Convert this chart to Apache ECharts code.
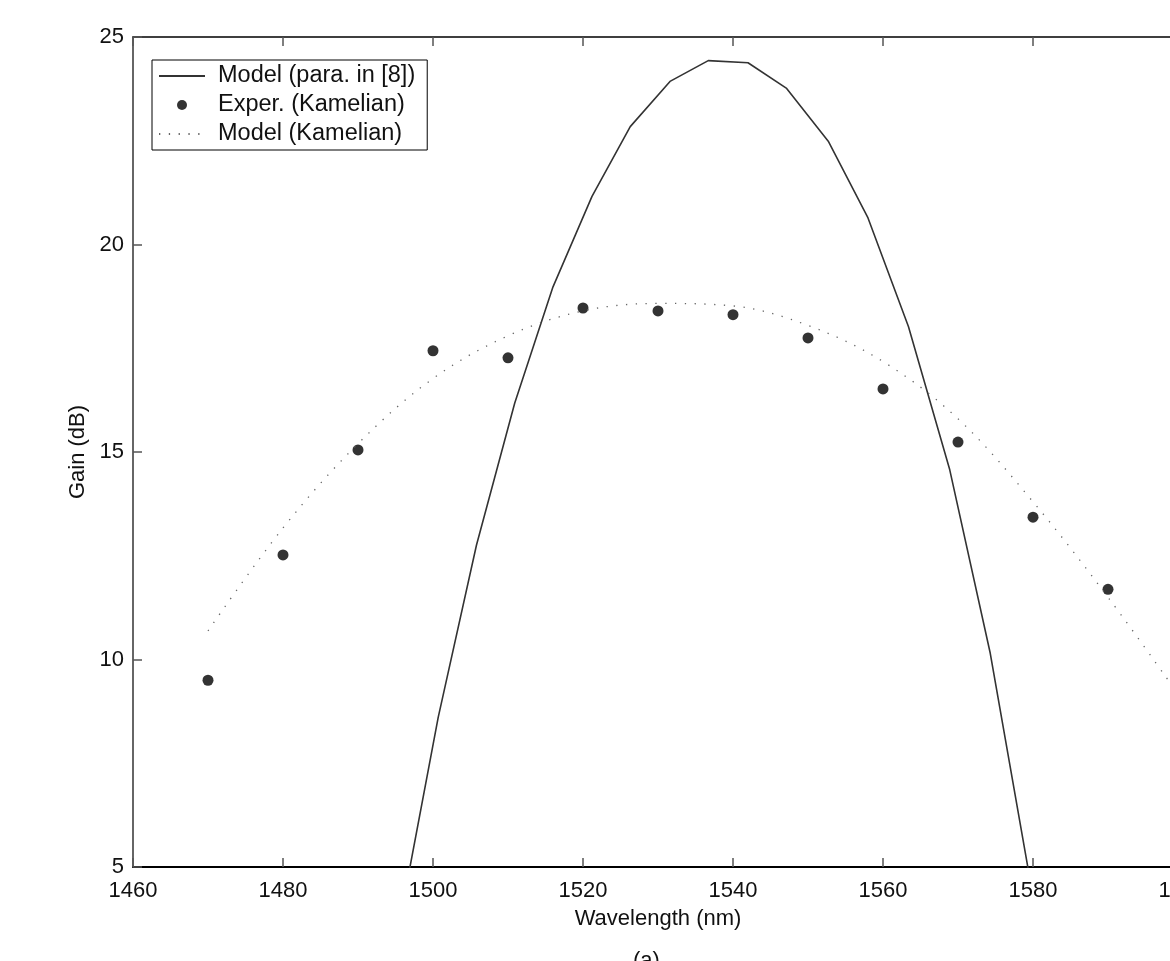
<!DOCTYPE html>
<html>
<head>
<meta charset="utf-8">
<script src="https://cdn.jsdelivr.net/npm/echarts@6/dist/echarts.min.js"></script>
<style>html,body{margin:0;padding:0;background:#fff}#c{width:1170px;height:961px}</style>
</head>
<body>
<div id="c"></div>
<script>
// Solid model curve (para. in [8])
var solidWl   = [1495.5, 1500.7, 1505.8, 1510.9, 1516.0, 1521.2, 1526.3, 1531.6, 1536.7, 1542.0, 1547.1, 1552.7, 1558.0, 1563.4, 1568.9, 1574.3, 1579.6];
var solidGain = [3.63, 8.61, 12.76, 16.18, 18.98, 21.16, 22.84, 23.93, 24.43, 24.38, 23.77, 22.49, 20.64, 18.02, 14.57, 10.15, 4.7];
// Experimental points (Kamelian)
var expWl   = [1470, 1480, 1490, 1500, 1510, 1520, 1530, 1540, 1550, 1560, 1570, 1580, 1590];
var expGain = [9.50, 12.52, 15.05, 17.44, 17.27, 18.47, 18.40, 18.31, 17.75, 16.52, 15.24, 13.43, 11.69];
// Dotted model curve (Kamelian)
var dotWl   = [1470, 1480, 1490, 1500, 1510, 1520, 1530, 1540, 1550, 1560, 1570, 1580, 1590, 1600];
var dotGain = [10.69, 13.17, 15.20, 16.77, 17.80, 18.40, 18.58, 18.52, 18.05, 17.18, 15.80, 13.80, 11.50, 9.00];

var names = ['Model (para. in [8])', 'Exper. (Kamelian)', 'Model (Kamelian)'];
var xTicks = {min: 1460, max: 1600, interval: 20};
var yTicks = {min: 5, max: 25, interval: 5};

function pairs(a, b) { return a.map(function (v, i) { return [v, b[i]]; }); }
function plain(v) { return String(v); }

var FONT = "'Liberation Sans', Arial, Helvetica, sans-serif";
var chart = echarts.init(document.getElementById('c'));
chart.setOption({
  animation: false,
  backgroundColor: '#fff',
  textStyle: {fontFamily: FONT},
  title: {text: '(a)', left: 633, top: 950, padding: 0,
    textStyle: {fontFamily: FONT, fontSize: 22, fontWeight: 'normal', color: '#111'}},
  grid: {left: 133, top: 37, width: 1050, height: 830, show: false,
    containLabel: false, outerBoundsMode: 'none'},
  legend: {
    left: 152, top: 60, orient: 'vertical',
    backgroundColor: '#fff', borderColor: '#000', borderWidth: 1, borderRadius: 0,
    padding: [4, 12, 4, 6], itemGap: 5, itemWidth: 46, itemHeight: 10,
    textStyle: {fontFamily: FONT, fontSize: 23.5, color: '#111', padding: [0, 0, 0, 8]},
    data: [
      {name: names[0], itemStyle: {opacity: 0, color: 'rgba(0,0,0,0)', borderWidth: 0}},
      {name: names[1]},
      {name: names[2], itemStyle: {opacity: 0, color: 'rgba(0,0,0,0)', borderWidth: 0}}
    ]
  },
  xAxis: [{
    type: 'value', min: xTicks.min, max: xTicks.max, interval: xTicks.interval,
    name: 'Wavelength (nm)', nameLocation: 'middle', nameGap: 41,
    nameTextStyle: {fontFamily: FONT, fontSize: 22, color: '#111'},
    axisLine: {show: true, lineStyle: {color: '#000', width: 2}},
    axisTick: {show: true, inside: true, length: 9, lineStyle: {color: '#555', width: 1.5}},
    axisLabel: {fontFamily: FONT, fontSize: 22, color: '#111', margin: 13, formatter: plain},
    splitLine: {show: false}
  }, {
    type: 'value', position: 'top', min: xTicks.min, max: xTicks.max, interval: xTicks.interval,
    axisLine: {show: true, lineStyle: {color: '#000', width: 1.5}},
    axisTick: {show: true, inside: true, length: 9, lineStyle: {color: '#555', width: 1.5}},
    axisLabel: {show: false}, splitLine: {show: false}
  }],
  yAxis: [{
    type: 'value', min: yTicks.min, max: yTicks.max, interval: yTicks.interval,
    name: 'Gain (dB)', nameLocation: 'middle', nameGap: 44, nameRotate: 90,
    nameTextStyle: {fontFamily: FONT, fontSize: 22, color: '#111'},
    axisLine: {show: true, lineStyle: {color: '#333', width: 1.5}},
    axisTick: {show: true, inside: true, length: 9, lineStyle: {color: '#555', width: 1.5}},
    axisLabel: {fontFamily: FONT, fontSize: 22, color: '#111', margin: 9, formatter: plain},
    splitLine: {show: false}
  }, {
    type: 'value', position: 'right', min: yTicks.min, max: yTicks.max, interval: yTicks.interval,
    axisLine: {show: true, lineStyle: {color: '#000', width: 1.5}},
    axisTick: {show: true, inside: true, length: 9},
    axisLabel: {show: false}, splitLine: {show: false}
  }],
  series: [{
    name: names[0], type: 'line', data: pairs(solidWl, solidGain),
    symbol: 'none', clip: true,
    lineStyle: {color: '#333', width: 1.6},
    itemStyle: {color: 'rgba(0,0,0,0)'}
  }, {
    name: names[1], type: 'scatter', data: pairs(expWl, expGain),
    symbol: 'circle', symbolSize: 11,
    itemStyle: {color: '#000'}
  }, {
    name: names[2], type: 'line', data: pairs(dotWl, dotGain),
    symbol: 'none', smooth: 0.35, clip: true,
    lineStyle: {color: '#666', width: 1.3, type: [1.3, 8.5]},
    itemStyle: {color: 'rgba(0,0,0,0)'}
  }]
});
</script>
</body>
</html>
